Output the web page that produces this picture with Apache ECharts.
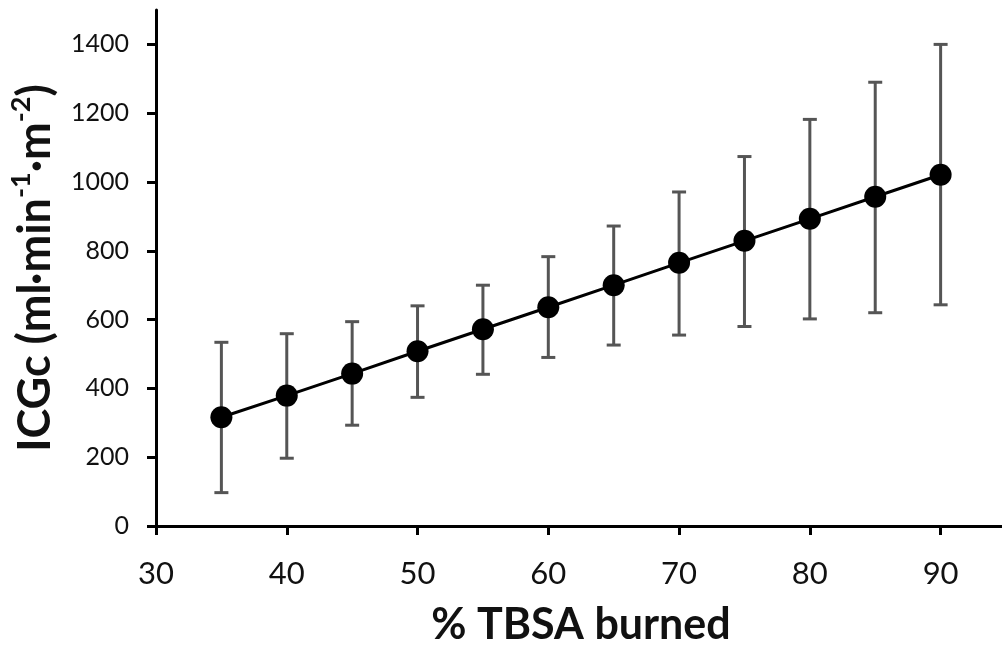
<!DOCTYPE html>
<html>
<head>
<meta charset="utf-8">
<script src="https://cdn.jsdelivr.net/npm/echarts@6/dist/echarts.min.js"></script>
<style>
  html, body { margin: 0; padding: 0; background: #fff; }
  #chart { width: 1002px; height: 656px; }
</style>
</head>
<body>
<div id="chart"></div>
<script>
// % TBSA burned
var tbsa = [35, 40, 45, 50, 55, 60, 65, 70, 75, 80, 85, 90];
// ICGc mean and error bar ends
var icgc = [316, 379, 443, 508, 572, 636, 700, 765, 829, 893, 957, 1021];
var upper = [534, 559, 594, 640, 700, 783, 872, 971, 1074, 1182, 1290, 1400];
var lower = [97, 197, 293, 374, 441, 490, 526, 555, 580, 602, 620, 643];
var xTicks = [30, 40, 50, 60, 70, 80, 90];
var yTicks = [0, 200, 400, 600, 800, 1000, 1200, 1400];

var font = 'Lato, "Open Sans", sans-serif';

var chart = echarts.init(document.getElementById('chart'));

var errData = tbsa.map(function (x, i) { return [x, lower[i], upper[i]]; });
var lineData = tbsa.map(function (x, i) { return [x, icgc[i]]; });

chart.setOption({
  animation: false,
  grid: { left: 156, right: -4, top: 10, bottom: 130, outerBoundsMode: 'none' },
  xAxis: {
    type: 'value',
    min: 30, max: 95, interval: 5,
    name: '% TBSA burned',
    nameLocation: 'middle',
    nameGap: 78,
    nameTextStyle: { fontFamily: font, fontWeight: 'bold', fontSize: 43, color: '#111' },
    axisLine: { lineStyle: { color: '#000', width: 3 } },
    axisTick: { length: 9, customValues: xTicks, lineStyle: { color: '#000', width: 3 } },
    axisLabel: { margin: 32, customValues: xTicks, fontFamily: font, fontSize: 31, color: '#111' },
    splitLine: { show: false }
  },
  yAxis: {
    type: 'value',
    min: 0, max: 1500, interval: 100,
    name: '{a|ICGc (ml·min}{s|-1}{a|·m}{s|-2}{a|)}',
    nameLocation: 'middle',
    nameGap: 98,
    nameTextStyle: {
      rich: {
        a: { fontFamily: font, fontWeight: 'bold', fontSize: 45, color: '#111', lineHeight: 50, verticalAlign: 'bottom' },
        s: { fontFamily: font, fontWeight: 'bold', fontSize: 27, color: '#111', lineHeight: 50, verticalAlign: 'top' }
      }
    },
    axisLine: { show: true, lineStyle: { color: '#000', width: 3 } },
    axisTick: { show: true, length: 9, customValues: yTicks, lineStyle: { color: '#000', width: 3 } },
    axisLabel: {
      margin: 27, customValues: yTicks, fontFamily: font, fontSize: 25, color: '#111',
      formatter: function (v) { return String(v); }
    },
    splitLine: { show: false }
  },
  series: [
    {
      type: 'custom',
      data: errData,
      z: 1,
      renderItem: function (params, api) {
        var x = api.value(0);
        var lo = api.coord([x, api.value(1)]);
        var hi = api.coord([x, api.value(2)]);
        var cap = 7;
        var st = { stroke: '#555', lineWidth: 3 };
        return {
          type: 'group',
          children: [
            { type: 'line', shape: { x1: lo[0], y1: lo[1], x2: hi[0], y2: hi[1] }, style: st },
            { type: 'line', shape: { x1: hi[0] - cap, y1: hi[1], x2: hi[0] + cap, y2: hi[1] }, style: st },
            { type: 'line', shape: { x1: lo[0] - cap, y1: lo[1], x2: lo[0] + cap, y2: lo[1] }, style: st }
          ]
        };
      }
    },
    {
      type: 'line',
      data: lineData,
      z: 2,
      symbol: 'circle',
      symbolSize: 22,
      itemStyle: { color: '#000' },
      lineStyle: { color: '#000', width: 3 }
    }
  ]
});
</script>
</body>
</html>
